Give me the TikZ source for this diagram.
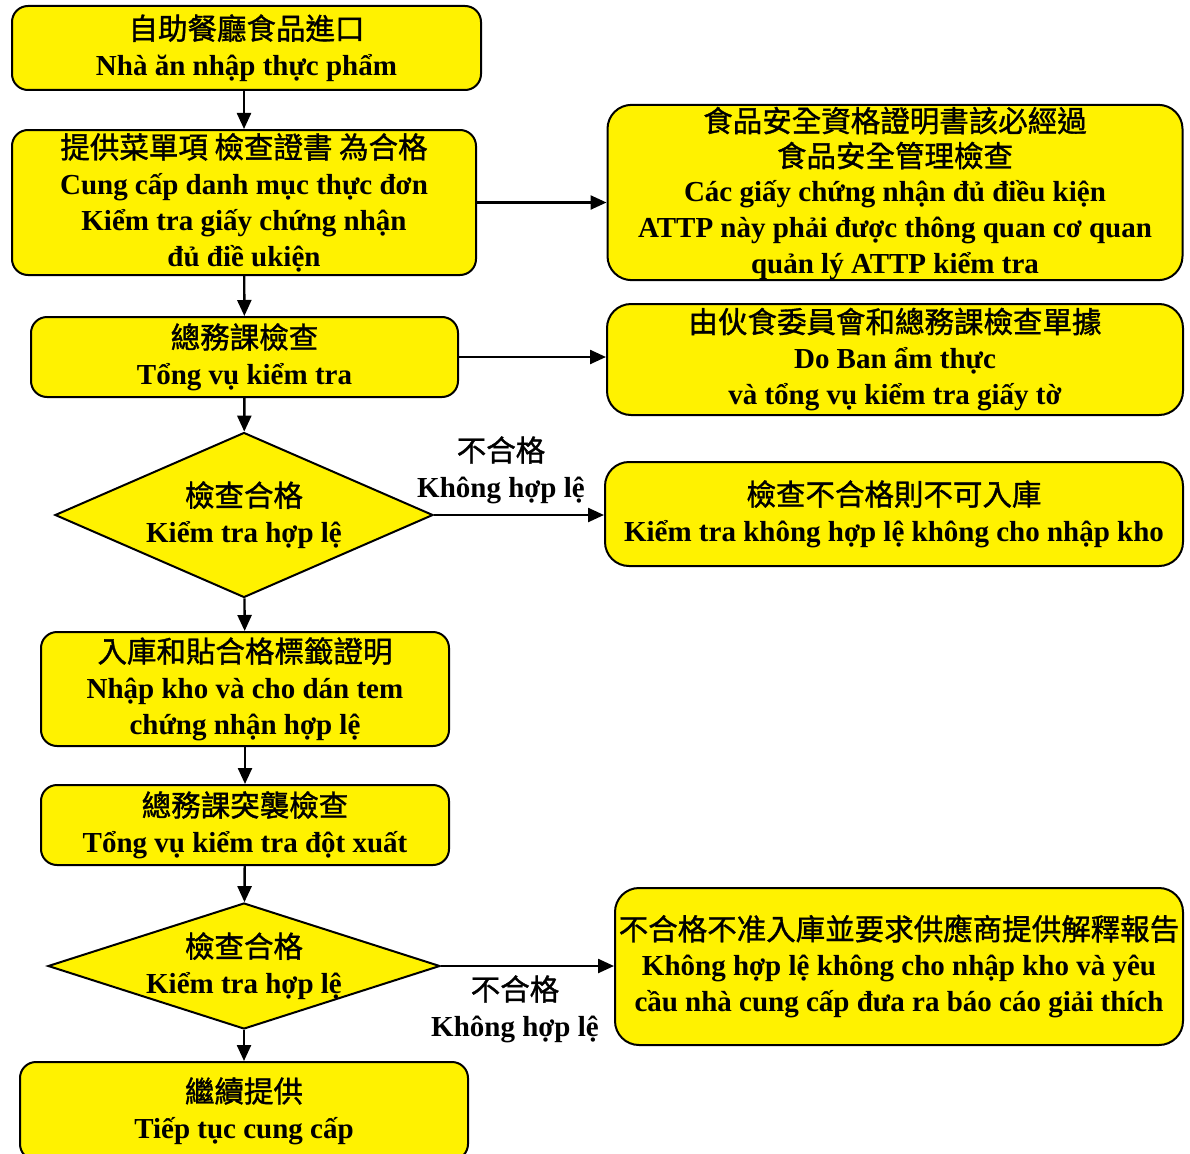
\documentclass[tikz,border=0pt]{standalone}
\usepackage{fontspec}
\setmainfont{Liberation Serif}
\newfontfamily\cjk[FakeBold=1.2]{Noto Sans CJK TC}
\usetikzlibrary{shapes.geometric,arrows.meta}

\tikzset{
  stepbox/.style={draw, line width=2pt, fill=yellow, rounded corners=16pt, align=center, inner sep=0pt, font=\bfseries\fontsize{29}{36}\selectfont},
  sidebox/.style={stepbox, rounded corners=24pt},
  checkbox/.style={draw, line width=2pt, fill=yellow, diamond, inner sep=0pt},
  txt/.style={align=center, inner sep=0pt, font=\bfseries\fontsize{29}{36}\selectfont},
  flow/.style={line width=2.4pt, -{Triangle[length=16pt,width=14pt]}}
}
\newcommand{\zh}[1]{{\cjk\mdseries\fontsize{29.5}{36}\selectfont #1}}

\begin{document}
\begin{tikzpicture}[x=1pt,y=-1pt]
			%%%%% START %%%%%
			\def\mx{244}
			\def\rx{895}
			\useasboundingbox (0,0) rectangle (1190,1153);

			% main column
			\node[stepbox, minimum width=469pt, minimum height=84pt] (food) at (246.5,48) {\zh{自助餐廳食品進口}\\Nhà ăn nhập thực phẩm};
			\node[stepbox, minimum width=464pt, minimum height=145pt] (menu) at (\mx,202.5) {\zh{提供菜單項 檢查證書 為合格}\\Cung cấp danh mục thực đơn\\Kiểm tra giấy chứng nhận\\đủ điề ukiện};
			\node[stepbox, minimum width=427pt, minimum height=80pt] (admin) at (244.5,357) {\zh{總務課檢查}\\Tổng vụ kiểm tra};
			\node[checkbox, minimum width=378pt, minimum height=165pt] (chk1) at (\mx,515) {};
			\node[txt] (chk1txt) at (chk1) {\zh{檢查合格}\\Kiểm tra hợp lệ};
			\node[stepbox, minimum width=408pt, minimum height=114pt] (store) at (245,689) {\zh{入庫和貼合格標籤證明}\\Nhập kho và cho dán tem\\chứng nhận hợp lệ};
			\node[stepbox, minimum width=408pt, minimum height=80pt] (spot) at (245,825) {\zh{總務課突襲檢查}\\Tổng vụ kiểm tra đột xuất};
			\node[checkbox, minimum width=392pt, minimum height=126pt] (chk2) at (\mx,966) {};
			\node[txt] (chk2txt) at (chk2) {\zh{檢查合格}\\Kiểm tra hợp lệ};
			\node[stepbox, minimum width=448pt, minimum height=98pt] (keep) at (\mx,1111) {\zh{繼續提供}\\Tiếp tục cung cấp};

			% right column
			\node[sidebox, minimum width=575pt, minimum height=175pt] (cert) at (\rx,192.5) {\rule{0pt}{27pt}\zh{食品安全資格證明書該必經過}\\[-1pt]\zh{食品安全管理檢查}\\[-1pt]Các giấy chứng nhận đủ điều kiện\\ATTP này phải được thông quan cơ quan\\quản lý ATTP kiểm tra};
			\node[sidebox, minimum width=576pt, minimum height=111pt] (board) at (\rx,359.5) {\zh{由伙食委員會和總務課檢查單據}\\Do Ban ẩm thực\\và tổng vụ kiểm tra giấy tờ};
			\node[sidebox, minimum width=578pt, minimum height=104pt] (reject) at (894,514) {\zh{檢查不合格則不可入庫}\\Kiểm tra không hợp lệ không cho nhập kho};
			\node[sidebox, minimum width=568pt, minimum height=157pt] (report) at (899,966.5) {\zh{不合格不准入庫並要求供應商提供解釋報告}\\Không hợp lệ không cho nhập kho và yêu\\cầu nhà cung cấp đưa ra báo cáo giải thích};

			% labels on the fail branches
			\node[txt] (fail1) at (501,470) {\zh{不合格}\\Không hợp lệ};
			\node[txt] (fail2) at (515,1009) {\zh{不合格}\\Không hợp lệ};

			\draw[flow] (food.south -| menu.north) -- (menu.north);
			\draw[flow] (menu.east) -- (menu.east -| cert.west);
			\draw[flow] (menu) -- (admin);
			\draw[flow] (admin.east) -- (admin.east -| board.west);
			\draw[flow] (admin) -- (chk1);
			\draw[flow] (chk1.east) -- (chk1.east -| reject.west);
			\draw[flow] (chk1) -- (store);
			\draw[flow] (store) -- (spot);
			\draw[flow] (spot) -- (chk2);
			\draw[flow] (chk2.east) -- (chk2.east -| report.west);
			\draw[flow] (chk2) -- (keep);
			%%%%% END %%%%%
\end{tikzpicture}
\end{document}
